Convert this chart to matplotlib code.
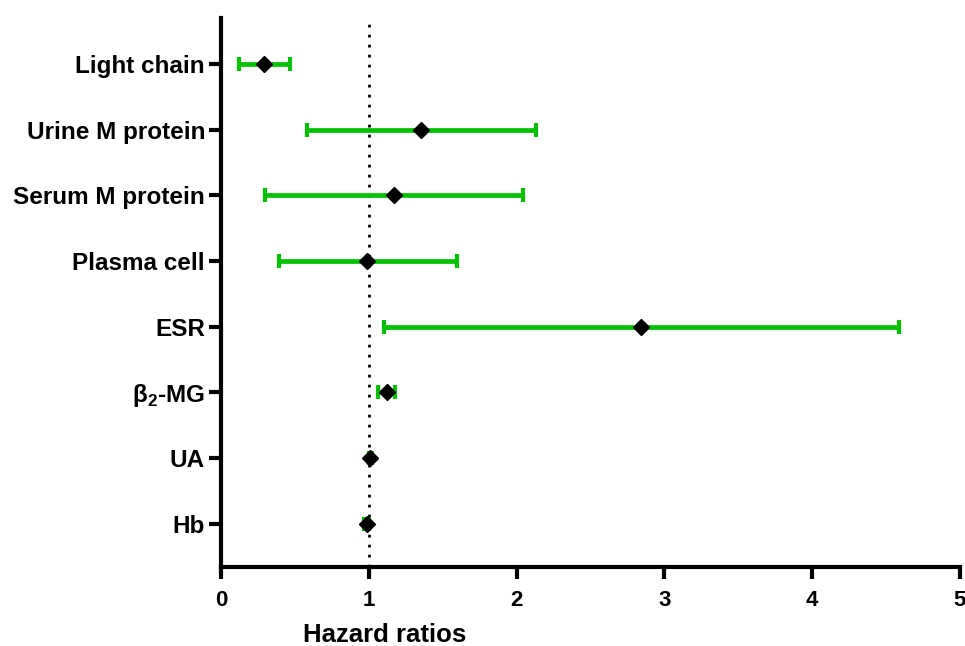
import matplotlib
matplotlib.use("Agg")
import matplotlib.pyplot as plt

categories = ["Hb", "UA", r"β$_{\mathregular{2}}$-MG", "ESR", "Plasma cell",
              "Serum M protein", "Urine M protein", "Light chain"]
hr = [0.99, 1.01, 1.12, 2.84, 0.99, 1.17, 1.35, 0.29]
ci_low = [0.97, 1.00, 1.06, 1.10, 0.39, 0.30, 0.58, 0.12]
ci_high = [1.00, 1.02, 1.18, 4.59, 1.60, 2.04, 2.13, 0.47]
xticks = [0, 1, 2, 3, 4, 5]

plt.rcParams['font.family'] = ['Liberation Sans', 'DejaVu Sans']
plt.rcParams['mathtext.fontset'] = 'custom'
plt.rcParams['mathtext.rm'] = 'Liberation Sans'

fig = plt.figure(figsize=(9.65, 6.46), dpi=100)
ax = fig.add_axes([221/965, 79/646, 739/965, 549/646])

y = list(range(len(categories)))
err = [[h - l for h, l in zip(hr, ci_low)], [u - h for h, u in zip(hr, ci_high)]]

ax.axvline(1, color='black', lw=2, linestyle=(0, (1, 2.6)), zorder=1)
ax.errorbar(hr, y, xerr=err, fmt='none', ecolor='#00C000', elinewidth=3.4,
            capsize=4.8, capthick=3, zorder=2, clip_on=False)
ax.plot(hr, y, linestyle='none', marker='D', color='black', markersize=8.5,
        zorder=3, clip_on=False)

ax.set_xlim(0, 5)
ax.set_ylim(-0.66, 7.7)
ax.set_xticks(xticks)
ax.set_xticklabels([str(t) for t in xticks])
ax.set_yticks(y)
ax.set_yticklabels(categories)

for s in ['top', 'right']:
    ax.spines[s].set_visible(False)
for s in ['left', 'bottom']:
    ax.spines[s].set_linewidth(3)

ax.tick_params(axis='both', width=3, length=8.5)
ax.tick_params(axis='y', pad=3, labelsize=17.5)
ax.tick_params(axis='x', pad=8, labelsize=16)
for lbl in ax.get_xticklabels() + ax.get_yticklabels():
    lbl.set_fontweight('bold')

ax.text(0.222, -0.1375, "Hazard ratios", transform=ax.transAxes, ha='center',
        va='baseline', fontsize=18.5, fontweight='bold')

fig.savefig("out.png", dpi=100)
